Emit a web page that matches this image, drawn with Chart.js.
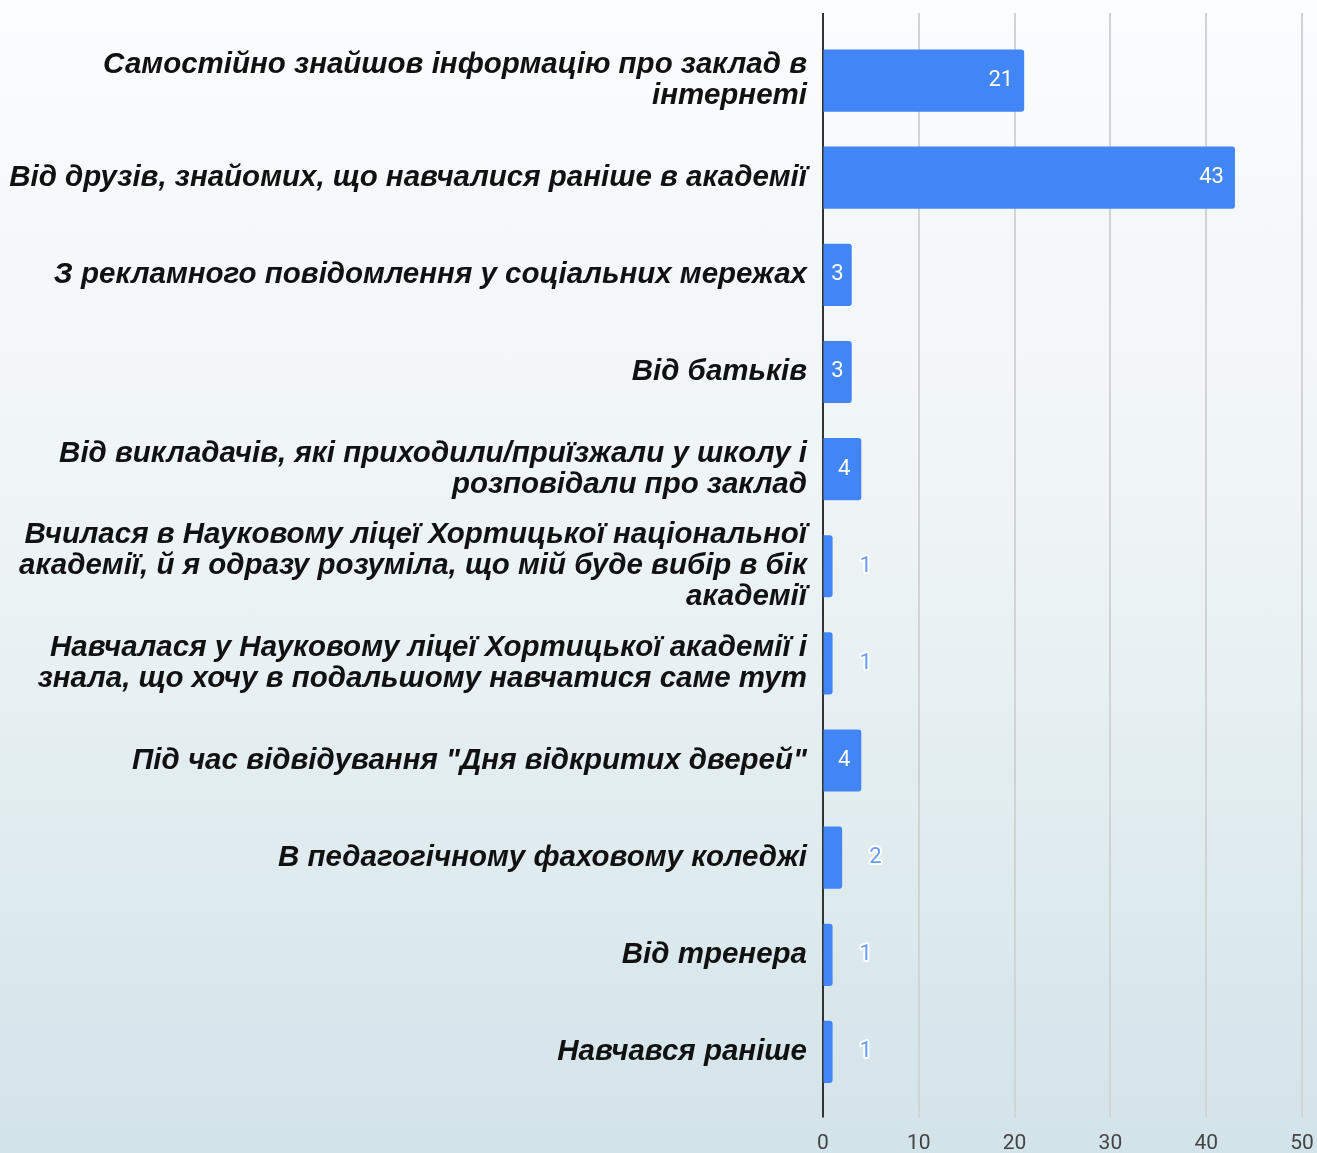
<!DOCTYPE html>
<html><head><meta charset="utf-8">
<script src="https://cdn.jsdelivr.net/npm/chart.js@4.4.1/dist/chart.umd.min.js"></script>
<style>
html,body{margin:0;padding:0;}
body{width:1317px;height:1153px;background:linear-gradient(to bottom,#fbfcfd 0%,#eef4f6 45%,#d2e3e9 100%);overflow:hidden;}
#wrap{width:1317px;height:1153px;position:relative;}
</style>
</head><body>
<div id="wrap"><canvas id="c" width="1317" height="1153"></canvas></div>
<script>
const categories = [
  ["Самостійно знайшов інформацію про заклад в", "інтернеті"],
  "Від друзів, знайомих, що навчалися раніше в академії",
  "З рекламного повідомлення у соціальних мережах",
  "Від батьків",
  ["Від викладачів, які приходили/приїзжали у школу і", "розповідали про заклад"],
  ["Вчилася в Науковому ліцеї Хортицької національної", "академії, й я одразу розуміла, що мій буде вибір в бік", "академії"],
  ["Навчалася у Науковому ліцеї Хортицької академії і", "знала, що хочу в подальшому навчатися саме тут"],
  "Під час відвідування \"Дня відкритих дверей\"",
  "В педагогічному фаховому коледжі",
  "Від тренера",
  "Навчався раніше"
];
const values = [21, 43, 3, 3, 4, 1, 1, 4, 2, 1, 1];
const xTicks = [0, 10, 20, 30, 40, 50];

const gridPlugin = {
  id: 'gridExt',
  beforeDatasetsDraw(chart) {
    const ctx = chart.ctx, xs = chart.scales.x, a = chart.chartArea;
    ctx.save();
    xTicks.forEach(v => {
      const px = Math.round(xs.getPixelForValue(v));
      ctx.beginPath();
      ctx.lineWidth = 2;
      ctx.strokeStyle = v === 0 ? '#333333' : '#d0d4d6';
      ctx.moveTo(px, a.top - 19);
      ctx.lineTo(px, a.bottom + 17);
      ctx.stroke();
    });
    ctx.restore();
  }
};

const labelPlugin = {
  id: 'valLabels',
  afterDatasetsDraw(chart) {
    const ctx = chart.ctx, meta = chart.getDatasetMeta(0), xs = chart.scales.x;
    ctx.save();
    ctx.font = '22px Roboto';
    ctx.textBaseline = 'middle';
    const base = xs.getPixelForValue(0);
    meta.data.forEach((bar, i) => {
      const txt = String(values[i]);
      const w = ctx.measureText(txt).width;
      const bw = bar.x - base;
      if (bw > w + 24) {
        ctx.textAlign = 'right';
        ctx.fillStyle = '#ffffff';
        ctx.fillText(txt, bar.x - 11, bar.y);
      } else if (bw > w + 10) {
        ctx.textAlign = 'center';
        ctx.fillStyle = '#ffffff';
        ctx.fillText(txt, (bar.x + base) / 2, bar.y);
      } else {
        ctx.textAlign = 'left';
        ctx.lineWidth = 4;
        ctx.strokeStyle = '#ffffff';
        ctx.lineJoin = 'round';
        ctx.strokeText(txt, bar.x + 27, bar.y);
        ctx.fillStyle = '#6a9bf6';
        ctx.fillText(txt, bar.x + 27, bar.y);
      }
    });
    ctx.restore();
  }
};

new Chart(document.getElementById('c'), {
  type: 'bar',
  data: {
    labels: categories,
    datasets: [{
      data: values,
      backgroundColor: '#4285f4',
      borderRadius: 3,
      borderSkipped: 'start',
      categoryPercentage: 0.8,
      barPercentage: 0.8
    }]
  },
  options: {
    indexAxis: 'y',
    responsive: false,
    animation: false,
    layout: { padding: { top: 32, right: 15, bottom: 0, left: 0 } },
    plugins: { legend: { display: false }, tooltip: { enabled: false } },
    scales: {
      x: {
        min: 0, max: 50,
        afterBuildTicks(s) { s.ticks = xTicks.map(v => ({ value: v })); },
        afterFit(s) { s.height = 52.5; },
        grid: { display: true, color: 'rgba(0,0,0,0)', drawOnChartArea: false, tickLength: 31 },
        border: { display: false },
        ticks: { padding: 0, color: '#444444', font: { family: 'Roboto', size: 21 }, maxRotation: 0 }
      },
      y: {
        grid: { display: false },
        border: { display: false },
        afterFit(s) { s.width = 823; },
        ticks: {
          padding: 8,
          color: '#111111',
          font: { family: '"Liberation Sans", Arial, sans-serif', size: 29.5, weight: 'bold', style: 'italic', lineHeight: 1.05 },
          autoSkip: false
        }
      }
    }
  },
  plugins: [gridPlugin, labelPlugin]
});
</script>
</body></html>
